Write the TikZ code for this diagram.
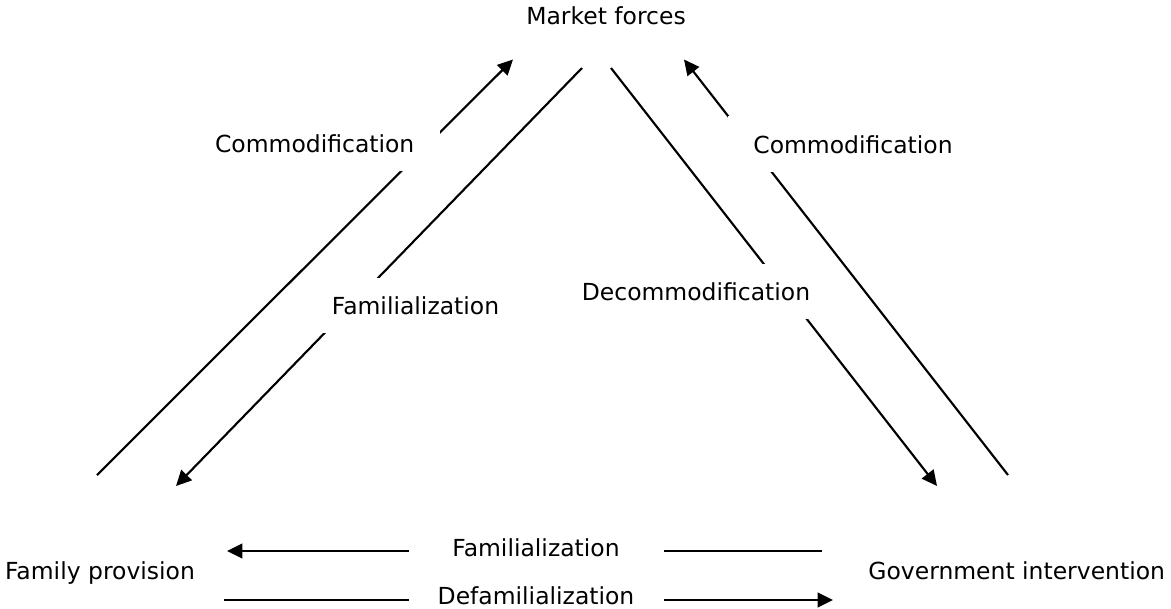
\documentclass[tikz,border=0pt]{standalone}
\usepackage{fontspec}
\setmainfont{DejaVu Sans}
\usetikzlibrary{arrows.meta}

\tikzset{
  link/.style={line width=1.6pt},
  arr/.style={link,-{Triangle[length=11.5pt,width=11pt]}},
  corner/.style={anchor=base,inner sep=0pt},
  gaplabel/.style={anchor=base,fill=white,text height=13.5pt,text depth=0pt,inner xsep=19pt,inner ysep=14pt},
  rowlabel/.style={anchor=base,fill=white,text height=13.5pt,text depth=0pt,inner xsep=2pt,inner ysep=0pt,minimum width=191.25pt}
}

\begin{document}
\begin{tikzpicture}[x=0.75pt,y=-0.75pt,font=\fontsize{17.6}{21}\selectfont]
                \useasboundingbox (0,0) rectangle (1171,608);
                \node[corner] (market) at (606,24) {Market forces};
                \node[corner] (family) at (100,579.3) {Family provision};
                \node[corner] (govt) at (1016.7,579.3) {Government intervention};
                \coordinate (famUp) at (97,475);
                \coordinate (mktL) at (513,59.5);
                \coordinate (mktFam) at (582,68);
                \coordinate (famDown) at (176,486);
                \coordinate (mktDec) at (611,68);
                \coordinate (govDown) at (937,486);
                \coordinate (govUp) at (1008,475);
                \coordinate (mktR) at (684,59.5);
                \coordinate (rowTopR) at (822,551);
                \coordinate (rowTopL) at (227,551);
                \coordinate (rowBotL) at (224,600);
                \coordinate (rowBotR) at (833,600);
                \draw[arr] (famUp) -- (mktL);
                \draw[arr] (mktFam) -- (famDown);
                \draw[arr] (mktDec) -- (govDown);
                \draw[arr] (govUp) -- (mktR);
                \draw[arr] (rowTopR) -- (rowTopL);
                \draw[arr] (rowBotL) -- (rowBotR);
                % labels cut the lines
                \node[gaplabel] (commL) at (314.7,152.7) {Commodification};
                \node[gaplabel] (commR) at (853,153) {Commodification};
                \node[gaplabel] (famL) at (415.5,314.3) {Familialization};
                \node[gaplabel] (decomm) at (696,300.7) {Decommodification};
                \node[rowlabel] (famRow) at (536,556.7) {Familialization};
                \node[rowlabel] (defamRow) at (536,604) {Defamilialization};
            \end{tikzpicture}
\end{document}
